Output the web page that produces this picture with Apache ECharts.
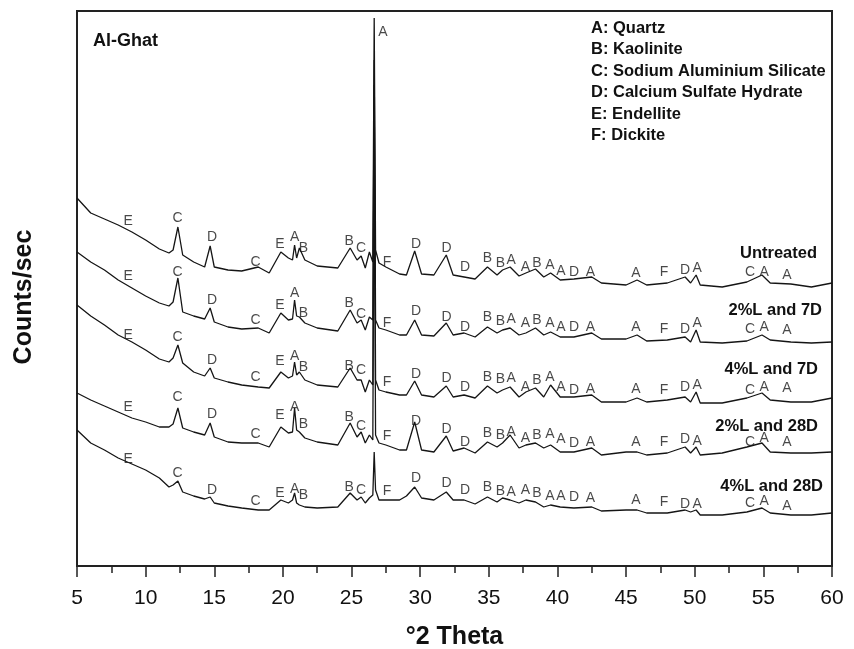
<!DOCTYPE html>
<html>
<head>
<meta charset="utf-8">
<script src="https://cdn.jsdelivr.net/npm/echarts@6/dist/echarts.min.js"></script>
<style>
  html, body { margin: 0; padding: 0; background: #fff; }
  #chart { width: 854px; height: 649px; }
</style>
</head>
<body>
<div id="chart"></div>
<script>
// Diffraction angle grid (°2θ) shared by all five patterns
const twoTheta = [5.0, 6.0, 7.0, 8.0, 9.0, 10.0, 11.0, 11.7, 12.0, 12.35, 12.7, 13.5, 14.3, 14.7, 15.0,
  16.0, 17.0, 18.2, 19.0, 19.85, 20.4, 20.7, 20.85, 21.0, 21.2, 21.6, 22.5, 24.0, 24.9, 25.4, 25.7,
  26.0, 26.3, 26.55, 26.65, 26.75, 27.0, 27.5, 28.5, 29.0, 29.6, 30.1, 31.0, 31.9, 32.4, 33.2, 34.0,
  34.9, 35.6, 36.0, 36.55, 37.2, 37.7, 38.4, 39.0, 39.5, 40.2, 41.2, 42.5, 43.2, 45.0, 45.8, 46.5,
  48.0, 49.3, 49.7, 50.1, 50.4, 52.0, 53.8, 54.9, 55.5, 57.0, 58.5, 60.0];

// Stacked intensities (counts/sec, offset per pattern)
const untreated = [368, 353, 347, 341, 334, 326, 317, 313, 316, 339, 311, 304, 299, 320, 299,
  296, 295, 299, 293, 314, 308, 306, 321, 308, 318, 306, 300, 298, 318, 306, 310,
  298, 314, 304, 548, 316, 303, 299, 292, 291, 315, 292, 291, 311, 291, 289, 287,
  299, 291, 296, 299, 290, 293, 297, 289, 293, 286, 287, 289, 283, 281, 286, 281,
  283, 289, 283, 291, 281, 279, 284, 291, 283, 282, 279, 283];

const lime2pct7d = [314, 304, 296, 286, 278, 270, 263, 260, 264, 288, 254, 250, 247, 258, 244,
  239, 237, 238, 233, 253, 246, 247, 266, 250, 249, 243, 238, 235, 256, 243, 246,
  236, 249, 246, 506, 246, 238, 236, 231, 231, 246, 231, 230, 243, 231, 233, 229,
  239, 233, 236, 238, 231, 233, 238, 231, 234, 229, 229, 233, 227, 227, 231, 225,
  226, 229, 224, 236, 224, 223, 225, 231, 226, 224, 223, 224];

const lime4pct7d = [261, 250, 241, 231, 224, 216, 207, 204, 208, 221, 203, 194, 190, 198, 188,
  184, 181, 179, 178, 194, 188, 190, 204, 191, 194, 186, 181, 179, 198, 186, 186,
  174, 186, 181, 481, 186, 176, 174, 171, 171, 185, 171, 169, 180, 169, 171, 168,
  180, 173, 176, 179, 169, 174, 178, 169, 181, 169, 169, 171, 164, 164, 168, 164,
  166, 169, 164, 174, 163, 163, 168, 173, 166, 164, 164, 168];

const lime2pct28d = [173, 166, 160, 154, 148, 144, 139, 139, 142, 158, 138, 134, 131, 143, 129,
  124, 123, 123, 119, 139, 133, 134, 158, 136, 134, 128, 124, 121, 143, 129, 134,
  123, 131, 126, 434, 131, 123, 121, 116, 116, 144, 116, 114, 130, 115, 118, 113,
  124, 119, 123, 131, 118, 121, 123, 118, 121, 114, 114, 118, 111, 114, 114, 111,
  113, 119, 113, 119, 111, 113, 119, 123, 114, 113, 113, 114];

const lime4pct28d = [136, 123, 116, 108, 102, 96, 88, 79, 81, 85, 74, 70, 67, 69, 63,
  60, 58, 56, 56, 66, 63, 66, 73, 63, 61, 59, 58, 59, 73, 66, 69,
  63, 68, 71, 114, 76, 66, 66, 66, 70, 79, 68, 66, 74, 66, 66, 62,
  69, 64, 68, 66, 63, 66, 64, 59, 61, 59, 58, 59, 55, 56, 56, 53,
  53, 56, 54, 56, 51, 51, 54, 58, 53, 51, 51, 53];

// Phase letters marked over the reflections, with their °2θ positions
const peakLetters = ['E', 'C', 'D', 'C', 'E', 'A', 'B', 'B', 'C', 'F', 'D', 'D', 'D', 'B', 'B',
  'A', 'A', 'B', 'A', 'A', 'D', 'A', 'A', 'F', 'D', 'A', 'C', 'A', 'A'];
const peakTheta = [8.72, 12.32, 14.83, 18.0, 19.79, 20.85, 21.5, 24.82, 25.69, 27.58, 29.7, 31.92,
  33.27, 34.9, 35.85, 36.62, 37.67, 38.51, 39.46, 40.26, 41.21, 42.41, 45.72, 47.77, 49.29,
  50.17, 54.03, 55.05, 56.72];

// Height of each letter above its pattern (same units as the intensities)
const untreatedMarks = [345, 348, 329, 304, 322, 329, 318, 325, 318, 304, 322, 318, 299, 308, 303,
  306, 299, 303, 301, 295, 294, 294, 293, 294, 296, 298, 294, 294, 291];
const lime2pct7dMarks = [290, 294, 266, 246, 261, 273, 253, 263, 252, 243, 255, 249, 239, 249, 245,
  247, 243, 246, 243, 239, 239, 239, 239, 237, 237, 243, 237, 239, 236];
const lime4pct7dMarks = [231, 229, 206, 189, 205, 210, 199, 200, 196, 184, 192, 188, 179, 189, 187,
  188, 179, 186, 189, 179, 176, 177, 177, 176, 179, 181, 176, 179, 178];
const lime2pct28dMarks = [159, 169, 152, 132, 151, 159, 142, 149, 140, 130, 145, 137, 124, 133, 131,
  134, 128, 131, 132, 127, 123, 124, 124, 124, 127, 125, 124, 128, 124];
const lime4pct28dMarks = [107, 93, 76, 65, 73, 77, 71, 79, 76, 75, 88, 83, 76, 79, 75,
  74, 76, 73, 70, 70, 69, 68, 66, 64, 62, 62, 63, 65, 60];

// Main quartz reflection label
const quartzMain = [27.29, 534, 'A'];

const patternNames = ['Untreated', '2%L and 7D', '4%L and 7D', '2%L and 28D', '4%L and 28D'];
const legendLines = ['A: Quartz', 'B: Kaolinite', 'C: Sodium Aluminium Silicate',
  'D: Calcium Sulfate Hydrate', 'E: Endellite', 'F: Dickite'];
const xTicks = [5, 10, 15, 20, 25, 30, 35, 40, 45, 50, 55, 60];

const patterns = [untreated, lime2pct7d, lime4pct7d, lime2pct28d, lime4pct28d];
const marks = [untreatedMarks, lime2pct7dMarks, lime4pct7dMarks, lime2pct28dMarks, lime4pct28dMarks];

const INK = '#151515';
const SANS = '"Liberation Sans", Arial, Helvetica, sans-serif';
const series = [];
patterns.forEach((vals, i) => {
  series.push({
    name: patternNames[i],
    type: 'line',
    data: twoTheta.map((t, k) => [t, vals[k]]),
    showSymbol: false,
    symbol: 'none',
    lineStyle: { color: INK, width: 1.3 },
    z: 3
  });
  const labelData = peakTheta.map((t, k) => [t, marks[i][k], peakLetters[k]]);
  if (i === 0) labelData.push(quartzMain);
  series.push({
    type: 'scatter',
    data: labelData,
    symbolSize: 0,
    silent: true,
    label: {
      show: true,
      position: 'inside',
      formatter: p => p.value[2],
      color: '#1a1a1a',
      fontSize: 14,
      fontFamily: SANS
    },
    z: 4
  });
});

const chart = echarts.init(document.getElementById('chart'), null, { renderer: 'canvas' });

// Pattern names placed to the right of each trace
const nameY = [255, 312, 371, 428, 488];
const nameRight = [37, 32, 36, 36, 31];
const graphics = patternNames.map((n, i) => ({
  type: 'text',
  right: nameRight[i],
  top: nameY[i] - 10,
  style: { text: n, font: 'bold 16.5px ' + SANS, fill: '#111' }
}));
legendLines.forEach((t, i) => {
  graphics.push({
    type: 'text',
    left: 591,
    top: 20 + i * 21.4,
    style: { text: t, font: 'bold 16.5px ' + SANS, fill: '#111' }
  });
});
graphics.push({
  type: 'text',
  left: 93,
  top: 32,
  style: { text: 'Al-Ghat', font: 'bold 18px ' + SANS, fill: '#111' }
});
// Vertical axis title
graphics.push({
  type: 'text',
  x: 24,
  y: 297,
  rotation: Math.PI / 2,
  style: {
    text: 'Counts/sec',
    font: 'bold 25px ' + SANS,
    fill: '#111',
    align: 'center',
    verticalAlign: 'middle'
  }
});

chart.setOption({
  animation: false,
  backgroundColor: '#fff',
  grid: {
    left: 77, right: 22, top: 11, bottom: 83,
    containLabel: false,
    outerBoundsMode: 'none',
    show: true, borderColor: '#222', borderWidth: 2, backgroundColor: 'transparent'
  },
  xAxis: {
    type: 'value',
    min: 5, max: 60, interval: 5,
    name: '°2 Theta',
    nameLocation: 'middle',
    nameGap: 59,
    nameTextStyle: { fontSize: 25, fontWeight: 'bold', color: '#111', fontFamily: SANS },
    axisLine: { show: true, lineStyle: { color: '#222', width: 2 } },
    axisTick: { show: true, inside: false, length: 11, lineStyle: { color: '#222', width: 1.5 } },
    minorTick: { show: true, splitNumber: 2, length: 7, lineStyle: { color: '#222', width: 1.5 } },
    splitLine: { show: false },
    axisLabel: {
      margin: 22,
      fontSize: 21,
      color: '#111',
      fontFamily: SANS,
      formatter: v => (xTicks.indexOf(v) >= 0 ? String(v) : '')
    }
  },
  yAxis: {
    type: 'value',
    min: 0, max: 555,
    axisLine: { show: true, lineStyle: { color: '#222', width: 2 } },
    axisTick: { show: false },
    axisLabel: { show: false },
    splitLine: { show: false }
  },
  graphic: graphics,
  series: series
});
</script>
</body>
</html>
